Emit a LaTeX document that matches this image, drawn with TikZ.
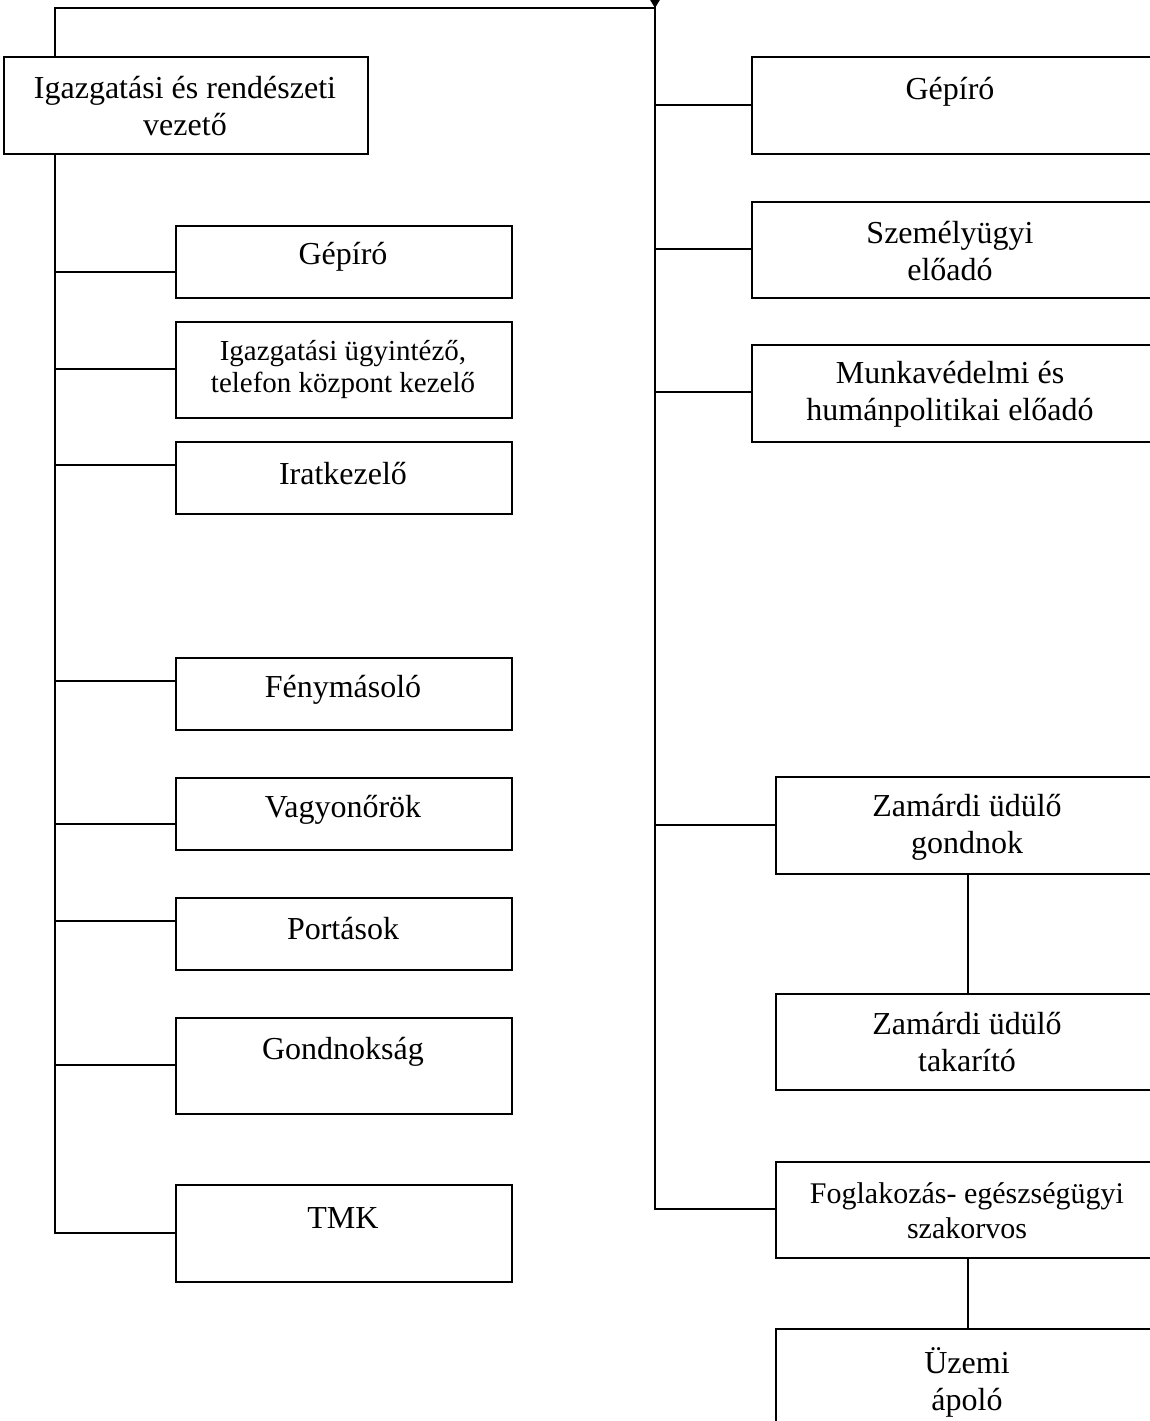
\documentclass[tikz,border=0pt]{standalone}
\usepackage{fontspec}
\setmainfont{Liberation Serif}
\begin{document}
\begin{tikzpicture}[x=0.5pt,y=-0.5pt,
  line width=1pt,
  box/.style 2 args={draw,rectangle,inner sep=0pt,anchor=north west,
    minimum width=#1*0.5pt,minimum height=#2*0.5pt},
  lbl/.style={inner sep=0pt,align=center,font=\fontsize{16}{18.5}\selectfont},
  lblsmall/.style={inner sep=0pt,align=center,font=\fontsize{14.5}{16}\selectfont},
  lblmid/.style={inner sep=0pt,align=center,font=\fontsize{15}{17.5}\selectfont}]
\useasboundingbox (0,0) rectangle (1150,1421);
\clip (0,0) rectangle (1150,1421);
\fill[white] (0,0) rectangle (1150,1421);

% head of the left branch
\node[box={364}{97}] (igv) at (3,56) {};
\node[lbl] (igvt) at (185,106) {Igazgatási és rendészeti\\vezető};

% left column
\node[box={336}{72}] (lgep) at (175,225) {};
\node[lbl] (lgept) at (343,257) {Gépíró};
\node[box={336}{96}] (lugy) at (175,321) {};
\node[lblsmall] (lugyt) at (343,369) {Igazgatási ügyintéző,\\telefon központ kezelő};
\node[box={336}{72}] (lirat) at (175,441) {};
\node[lbl] (liratt) at (343,474) {Iratkezelő};
\node[box={336}{72}] (lfeny) at (175,657) {};
\node[lbl] (lfenyt) at (343,690) {Fénymásoló};
\node[box={336}{72}] (lvagy) at (175,777) {};
\node[lbl] (lvagyt) at (343,810) {Vagyonőrök};
\node[box={336}{72}] (lport) at (175,897) {};
\node[lbl] (lportt) at (343,929) {Portások};
\node[box={336}{96}] (lgond) at (175,1017) {};
\node[lbl] (lgondt) at (343,1052) {Gondnokság};
\node[box={336}{97}] (ltmk) at (175,1184) {};
\node[lbl] (ltmkt) at (343,1218) {TMK};

% right column
\node[box={420}{97}] (rgep) at (751,56) {};
\node[lbl] (rgept) at (950,92) {Gépíró};
\node[box={420}{96}] (rszem) at (751,201) {};
\node[lbl] (rszemt) at (950,251) {Személyügyi\\előadó};
\node[box={420}{97}] (rmunk) at (751,344) {};
\node[lbl] (rmunkt) at (950,394) {Munkavédelmi és\\humánpolitikai előadó};
\node[box={384}{97}] (rzgond) at (775,776) {};
\node[lbl] (rzgondt) at (967,827) {Zamárdi üdülő\\gondnok};
\node[box={384}{96}] (rztak) at (775,993) {};
\node[lbl] (rztakt) at (967,1042) {Zamárdi üdülő\\takarító};
\node[box={384}{96}] (rfogl) at (775,1161) {};
\node[lblmid] (rfoglt) at (967,1211) {Foglakozás- egészségügyi\\szakorvos};
\node[box={384}{120}] (rapol) at (775,1328) {};
\node[lbl] (rapolt) at (967,1382) {Üzemi\\ápoló};

% trunk lines
\coordinate (topL) at (55,8);
\coordinate (topR) at (655,8);
\coordinate (inR) at (655,0);
\coordinate (endL) at (55,1233);
\coordinate (endR) at (655,1209);

\draw (topL |- igv.north) -- (topL) -- (topR);
\fill (649,-2) -- (661,-2) -- (topR) -- cycle;
\draw (topL |- igv.south) -- (endL) -- (endL -| ltmk.west);
\draw (inR) -- (endR) -- (endR -| rfogl.west);

% left branches
\foreach \yy/\nn in {272/lgep,369/lugy,465/lirat,681/lfeny,824/lvagy,921/lport,1065/lgond}{
  \coordinate (j\nn) at (55,\yy);
  \draw (j\nn) -- (j\nn -| \nn.west);
}
% right branches
\foreach \yy/\nn in {105/rgep,249/rszem,392/rmunk,825/rzgond}{
  \coordinate (j\nn) at (655,\yy);
  \draw (j\nn) -- (j\nn -| \nn.west);
}
% subordinate links
\draw (rzgond.south) -- (rztak.north);
\draw (rfogl.south) -- (rapol.north);
\end{tikzpicture}
\end{document}
